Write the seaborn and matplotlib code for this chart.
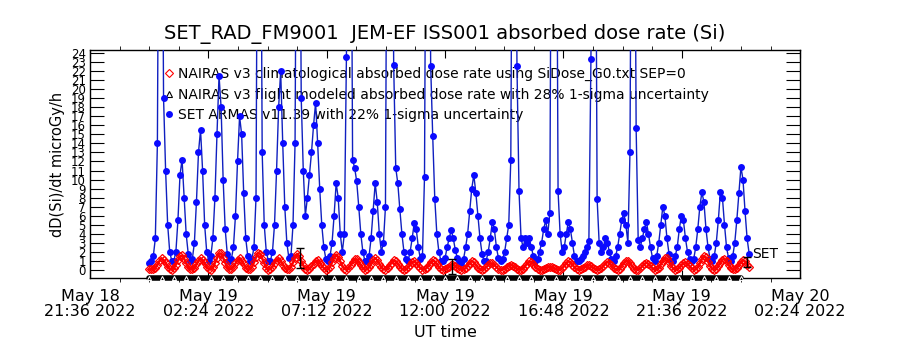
import numpy as np
import pandas as pd
import matplotlib
matplotlib.use("Agg")
import matplotlib.pyplot as plt
import matplotlib.dates as mdates
from matplotlib.lines import Line2D
import seaborn as sns

# time base of the dose series (5 min cadence from May 19 00:00 UT)
t0 = "2022-05-19 00:00"
cadence = "5min"

# SET ARMAS v11.39 absorbed dose rate, microGy/h (values > 24 are SAA passes, off scale)
set_armas = [
    0.8, 1.0, 1.5, 3.5, 14, 60, 60, 19, 11, 5, 2, 1.0,
    1.0, 2.0, 5.5, 10.5, 12.2, 8, 4, 1.8, 1.0, 1.2, 3, 7.5,
    13, 15.5, 11, 5, 2, 1.0, 1.5, 3.5, 8, 15, 21.5, 18,
    10, 4.5, 1.8, 1.0, 1.2, 2.5, 6, 12, 17, 15, 8.5, 3.5,
    1.5, 1.0, 1.2, 2.5, 8, 60, 60, 13, 5, 2, 1.0, 1.0,
    2, 5, 11, 18, 22, 14, 7, 3, 1.3, 1.5, 5, 14,
    60, 60, 19, 11, 6, 8, 10.5, 13, 16, 18.5, 14, 9,
    5, 2.5, 1.2, 1.0, 1.5, 3, 6, 9.6, 8, 4, 2, 4,
    23.6, 60, 60, 12.2, 11.3, 9.8, 7, 4, 2, 1.0, 1.0, 1.5,
    3.5, 6.5, 9.6, 7.5, 4, 2, 3, 7, 60, 60, 60, 22.7,
    11.3, 9.6, 6.7, 4, 2, 1.2, 1.0, 2, 3.5, 5.2, 4.5, 2.5,
    1.2, 1.5, 10.3, 60, 60, 22.6, 14.8, 7.9, 4, 2, 1.0, 1.0,
    1.3, 2.5, 3.5, 4.4, 3.5, 2.2, 1.3, 1.0, 0.8, 1.2, 2.5, 4,
    6.5, 9, 10.5, 8.5, 6, 3.5, 1.8, 1.0, 1.0, 2, 3.5, 5.3,
    4.5, 2.5, 1.3, 1.0, 1.2, 2, 3.5, 5, 12.2, 60, 60, 22.6,
    8.7, 3.5, 2.5, 3.5, 3, 3.5, 2.5, 1.5, 1.0, 1.2, 2, 3,
    4.5, 5.5, 4, 6.3, 60, 60, 60, 8.7, 4, 2, 2.5, 4,
    5.3, 4.5, 3, 1.5, 1.0, 1.0, 1.2, 1.5, 2, 2.5, 3.2, 23.3,
    60, 60, 7.9, 3, 2, 2.5, 3.5, 3, 2, 1.2, 1.0, 1.5,
    2.5, 4, 5.5, 6.3, 5, 3, 13, 60, 60, 15.7, 3.3, 2.5,
    3.5, 4.5, 5.3, 4, 2.5, 1.3, 1.0, 1.5, 3, 5, 7, 6,
    3.5, 1.8, 1.0, 1.0, 1.5, 2.5, 4.5, 6, 5.5, 3.5, 2, 1.2,
    1.0, 1.2, 2.5, 4.5, 7, 8.6, 7.5, 4.5, 2.5, 1.2, 1.0, 1.5,
    3, 5.5, 8.6, 8, 5, 2.5, 1.3, 1.0, 1.5, 3, 5.5, 8.5,
    11.4, 10, 6.5, 3.5, 1.8,
]

# NAIRAS v3 climatological absorbed dose rate, microGy/h
nairas_clim = [
    0.05, 0.05, 0.05, 0.26, 0.6, 1.0, 1.3, 1.1, 0.75, 0.36, 0.1, 0.03,
    0.2, 0.6, 1.05, 1.5, 1.6, 1.25, 0.73, 0.3, 0.07, 0.05, 0.27, 0.64,
    1.03, 1.3, 1.1, 0.72, 0.33, 0.09, 0.04, 0.28, 0.8, 1.34, 1.82, 1.82,
    1.34, 0.8, 0.28, 0.05, 0.09, 0.33, 0.72, 1.1, 1.3, 1.03, 0.64, 0.27,
    0.06, 0.05, 0.32, 0.84, 1.4, 1.9, 1.78, 1.26, 0.74, 0.24, 0.04, 0.1,
    0.36, 0.75, 1.12, 1.28, 1.0, 0.6, 0.26, 0.05, 0.07, 0.36, 0.83, 1.37,
    1.77, 1.55, 1.04, 0.5, 0.14, 0.03, 0.13, 0.4, 0.67, 0.97, 1.05, 0.8,
    0.47, 0.2, 0.04, 0.07, 0.36, 0.83, 1.35, 1.7, 1.45, 0.94, 0.43, 0.12,
    0.04, 0.18, 0.52, 0.87, 1.18, 1.18, 0.87, 0.52, 0.18, 0.04, 0.07, 0.29,
    0.68, 1.07, 1.3, 1.07, 0.68, 0.29, 0.07, 0.04, 0.17, 0.5, 0.82, 1.05,
    0.97, 0.7, 0.38, 0.13, 0.03, 0.08, 0.28, 0.58, 0.86, 0.96, 0.76, 0.46,
    0.2, 0.04, 0.05, 0.22, 0.5, 0.84, 1.07, 0.94, 0.64, 0.31, 0.09, 0.02,
    0.07, 0.22, 0.37, 0.53, 0.57, 0.44, 0.26, 0.11, 0.03, 0.05, 0.21, 0.49,
    0.79, 1.0, 0.85, 0.55, 0.25, 0.07, 0.03, 0.11, 0.32, 0.54, 0.73, 0.73,
    0.54, 0.32, 0.11, 0.03, 0.04, 0.13, 0.31, 0.49, 0.6, 0.49, 0.31, 0.13,
    0.04, 0.04, 0.16, 0.45, 0.7, 0.94, 0.91, 0.64, 0.34, 0.12, 0.02, 0.03,
    0.11, 0.23, 0.34, 0.38, 0.3, 0.18, 0.08, 0.02, 0.04, 0.2, 0.46, 0.76,
    0.96, 0.86, 0.58, 0.28, 0.08, 0.02, 0.07, 0.22, 0.37, 0.53, 0.57, 0.44,
    0.26, 0.11, 0.03, 0.05, 0.19, 0.44, 0.71, 0.9, 0.77, 0.5, 0.22, 0.06,
    0.03, 0.15, 0.44, 0.74, 1.0, 1.0, 0.74, 0.44, 0.15, 0.03, 0.04, 0.18,
    0.42, 0.66, 0.8, 0.66, 0.42, 0.18, 0.04, 0.05, 0.22, 0.63, 0.98, 1.32,
    1.27, 0.9, 0.48, 0.17, 0.02, 0.07, 0.25, 0.52, 0.77, 0.87, 0.68, 0.41,
    0.18, 0.04, 0.06, 0.32, 0.74, 1.22, 1.55, 1.38, 0.93, 0.45, 0.13, 0.03,
    0.15, 0.47, 0.8, 1.14, 1.24, 0.95, 0.56, 0.23, 0.05, 0.06, 0.23, 0.54,
    0.87, 1.1, 0.94, 0.6, 0.28,
]

# NAIRAS v3 flight modeled, 30 min cadence (sits on the bottom of the frame)
flight_cadence = "30min"
nairas_flight = [
    -0.9, -0.9, -0.9, -0.9, -0.9, -0.9, -0.9, -0.9, -0.9, -0.9,
    -0.9, -0.9, -0.9, -0.9, -0.9, -0.9, -0.9, -0.9, -0.9, -0.9,
    -0.9, -0.9, -0.9, -0.9, -0.9, -0.9, -0.9, -0.9, -0.9, -0.9,
    -0.9, -0.9, -0.9, -0.9, -0.9, -0.9, -0.9, -0.9, -0.9, -0.9,
    -0.9, -0.9, -0.9, -0.9, -0.9, -0.9, -0.9, -0.9, -0.9,
]

# the few black uncertainty bars
err_times = ["2022-05-19 06:07", "2022-05-19 12:16", "2022-05-20 00:15"]
err_center = [1.3, 0.4, 0.85]
err_half = [1.1, 0.85, 0.55]

legend_labels = [
    "NAIRAS v3 climatological absorbed dose rate using SiDose_G0.txt SEP=0",
    "NAIRAS v3 flight modeled absorbed dose rate with 28% 1-sigma uncertainty",
    "SET ARMAS v11.39 with 22% 1-sigma uncertainty",
]
title = "SET_RAD_FM9001  JEM-EF ISS001 absorbed dose rate (Si)"
x_start = "2022-05-18 21:36"
x_end = "2022-05-20 02:24"

blue_df = pd.DataFrame({"time": pd.date_range(t0, periods=len(set_armas), freq=cadence),
                        "dose": set_armas})
red_df = pd.DataFrame({"time": pd.date_range(t0, periods=len(nairas_clim), freq=cadence),
                       "dose": nairas_clim})
black_df = pd.DataFrame({"time": pd.date_range(t0, periods=len(nairas_flight), freq=flight_cadence),
                         "dose": nairas_flight})

sns.set_style("ticks")
plt.rcParams["font.family"] = ["DejaVu Sans"]
for key in ["text.color", "axes.labelcolor", "xtick.color", "ytick.color", "axes.edgecolor"]:
    plt.rcParams[key] = "black"

fig, ax = plt.subplots(figsize=(9, 3.5), dpi=100)
fig.subplots_adjust(left=0.1, right=0.889, bottom=0.206, top=0.857)

blue = "#0a0aff"
sns.lineplot(data=blue_df, x="time", y="dose", ax=ax, color="#1020c0", lw=1,
             marker="o", markersize=5, markerfacecolor=blue, markeredgecolor=blue,
             markeredgewidth=0, zorder=4)
sns.lineplot(data=red_df, x="time", y="dose", ax=ax, color="red", lw=1.8,
             marker="D", markersize=4.5, markerfacecolor="none", markeredgecolor="red",
             markeredgewidth=0.9, zorder=5)
sns.lineplot(data=black_df, x="time", y="dose", ax=ax, color="black", lw=4,
             marker="^", markersize=3, markerfacecolor="none", clip_on=False, zorder=6)
ax.errorbar(pd.to_datetime(err_times), err_center, yerr=err_half, fmt="none",
            ecolor="black", elinewidth=1, capsize=3, zorder=7)

ax.annotate("SET", xy=(blue_df["time"].iloc[-1], 1.0), xytext=(2, 0),
            textcoords="offset points", fontsize=10, ha="left", va="bottom")

# axes
ax.set_xlim(pd.Timestamp(x_start), pd.Timestamp(x_end))
ax.set_xticks(pd.date_range(x_start, x_end, freq="288min"))
ax.set_xticks(pd.date_range(x_start, x_end, freq="72min"), minor=True)
ax.xaxis.set_major_formatter(mdates.DateFormatter("%b %d\n%H:%M %Y"))
ax.set_ylim(-0.88, 24.33)
ax.set_yticks(range(0, 25))
ax.tick_params(axis="both", direction="in", top=True, right=True, width=0.8)
ax.tick_params(axis="y", which="major", length=10, labelsize=8.5, pad=3)
ax.tick_params(axis="x", which="major", length=6, labelsize=11.5, pad=8)
ax.tick_params(axis="x", which="minor", length=3, top=True)
for lab in ax.get_xticklabels():
    lab.set_linespacing(1.0)
for s in ax.spines.values():
    s.set_linewidth(1)
    s.set_color("black")

ax.set_title(title, fontsize=14, pad=8)
ax.set_ylabel("dD(Si)/dt microGy/h", fontsize=10.5, labelpad=4)
ax.set_xlabel("UT time", fontsize=11.5, labelpad=4)

handles = [
    Line2D([], [], ls="none", marker="D", markersize=4, markerfacecolor="none",
           markeredgecolor="red", markeredgewidth=0.8),
    Line2D([], [], ls="none", marker="^", markersize=5, markerfacecolor="none",
           markeredgecolor="black", markeredgewidth=0.8),
    Line2D([], [], ls="none", marker="o", markersize=5, markerfacecolor=blue,
           markeredgewidth=0),
]
leg = ax.legend(handles, legend_labels, loc="upper left", bbox_to_anchor=(0.105, 0.925),
                frameon=False, fontsize=10, handlelength=0.7, handletextpad=0.3,
                labelspacing=0.45, borderaxespad=0, borderpad=0)
leg.set_zorder(3)

fig.savefig("out.png", dpi=100)
